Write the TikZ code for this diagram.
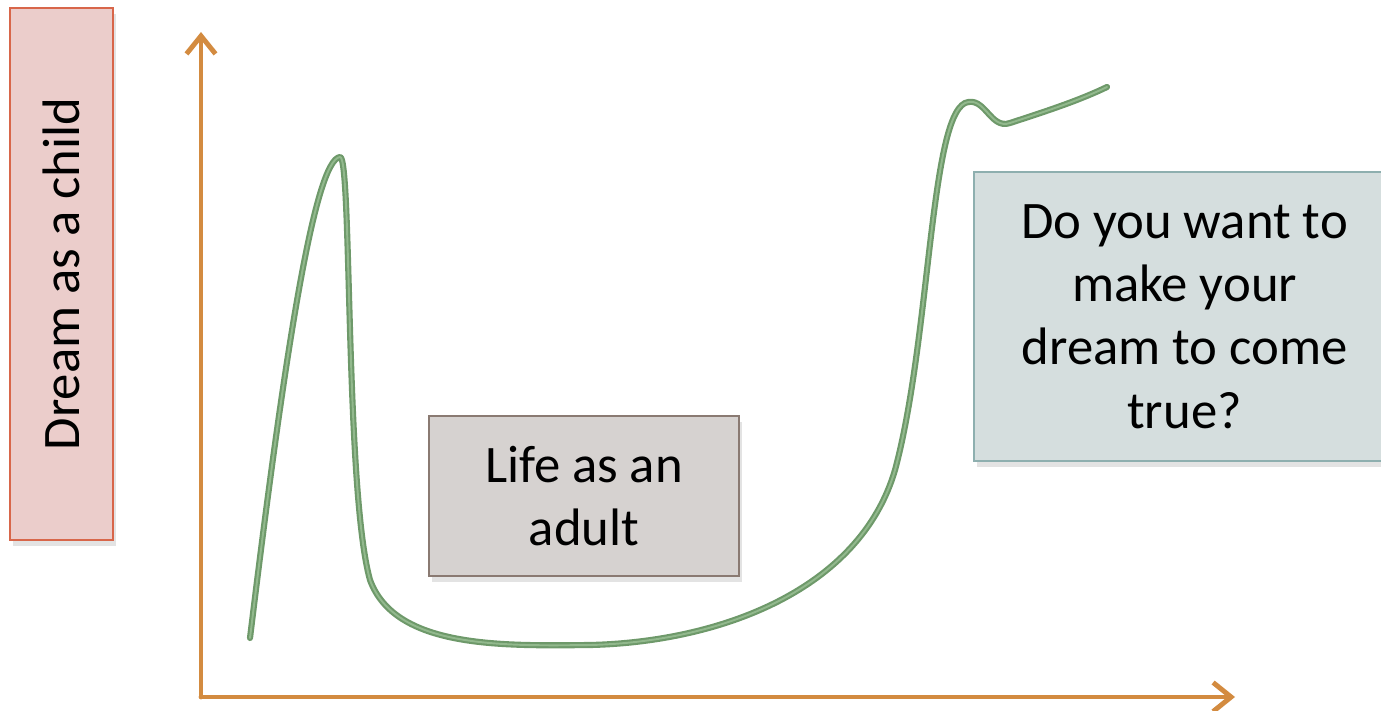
\documentclass[tikz,border=0pt]{standalone}
\usepackage{fontspec}
\setmainfont{Carlito}
\usetikzlibrary{arrows.meta,shadows,calc}
\definecolor{childfill}{HTML}{EBCDCB}
\definecolor{childline}{HTML}{D8664A}
\definecolor{adultfill}{HTML}{D6D2D0}
\definecolor{adultline}{HTML}{8A7A72}
\definecolor{dreamfill}{HTML}{D5DEDE}
\definecolor{dreamline}{HTML}{8EAFAF}
\definecolor{axisline}{HTML}{D38B40}
\definecolor{curveout}{HTML}{6E996A}
\definecolor{curvein}{HTML}{92B98D}

\begin{document}
\begin{tikzpicture}[
        box/.style={draw, line width=0.6pt, align=center, inner sep=0pt,
            font=\fontsize{15pt}{18pt}\selectfont,
            drop shadow={opacity=0.22, shadow xshift=0.03cm, shadow yshift=-0.06cm}},
        axis/.style={draw=axisline, line width=1.4pt, line cap=round, line join=round,
            -{Straight Barb[length=1.8mm, width=2.9mm, line width=1.4pt]}}
    ]
            \useasboundingbox (0,0) rectangle (13.81,7.10);
            \clip (0,0) rectangle (13.81,7.10);
            \node[box, fill=childfill, draw=childline, minimum width=1.03cm, minimum height=5.32cm] (Child) at (0.615,4.36) {};
            \node[rotate=90, font=\fontsize{15pt}{18pt}\selectfont] (ChildText) at (Child.center) {Dream as a child};
            \node[box, fill=adultfill, draw=adultline, minimum width=3.10cm, minimum height=1.60cm] (Adult) at (5.84,2.14) {Life as an\\adult};
            \node[box, fill=dreamfill, draw=dreamline, minimum width=4.21cm, minimum height=2.89cm] (Dream) at (11.845,3.935) {Do you want to\\make your\\dream to come\\true?};
            \coordinate (O) at (2.01,0.13);
            \coordinate (Ytop) at (2.01,6.78);
            \coordinate (Xend) at (12.35,0.13);
            \draw[axis] (O) -- (Ytop);
            \draw[axis] (O) -- (Xend);
            \draw[curveout, line width=0.6pt, line cap=round, line join=round,
                double=curvein, double distance=0.55pt]
                (2.50,0.72) .. controls (2.85,3.6) and (3.15,5.5) .. (3.40,5.53)
                .. controls (3.52,5.55) and (3.45,2.2) .. (3.70,1.3)
                .. controls (3.95,0.62) and (5.0,0.64) .. (5.90,0.65)
                .. controls (7.2,0.68) and (8.6,1.2) .. (8.95,2.4)
                .. controls (9.30,3.7) and (9.3,5.9) .. (9.65,6.07)
                .. controls (9.85,6.15) and (9.9,5.8) .. (10.10,5.87)
                .. controls (10.5,6.0) and (10.8,6.1) .. (11.07,6.23);
        \end{tikzpicture}
\end{document}
